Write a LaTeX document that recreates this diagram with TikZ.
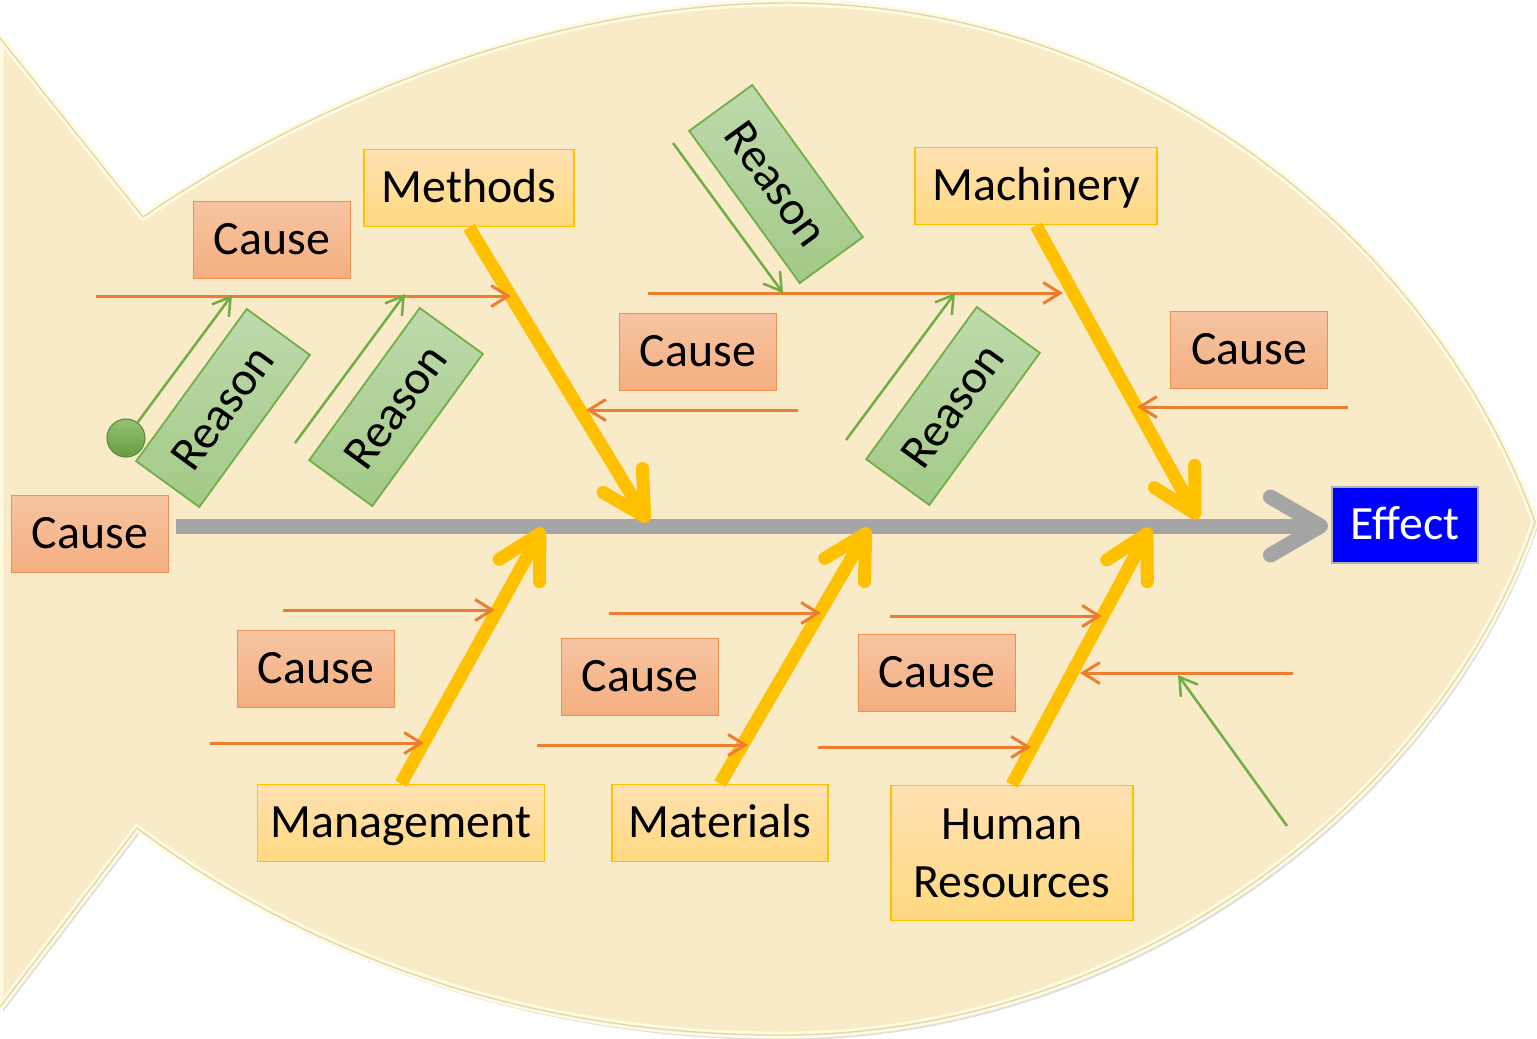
\documentclass[tikz,border=0pt]{standalone}
\usepackage{fontspec}
\setmainfont{Carlito}
\usepackage{xcolor}
\usepackage{tikz}
\usetikzlibrary{arrows.meta,shadows}
\definecolor{fishfill}{HTML}{FAEBC8}
\definecolor{fishedge}{HTML}{E3D6AE}
\definecolor{fishglow}{HTML}{FFFBE0}
\definecolor{spinegray}{HTML}{A5A5A5}
\definecolor{boneyellow}{HTML}{FFC000}
\definecolor{causeline}{HTML}{ED7D31}
\definecolor{reasonline}{HTML}{70AD47}
\definecolor{effectblue}{HTML}{0000FF}
\newcommand{\boxfont}{\fontsize{13.6}{16.5}\selectfont}
\tikzset{
  one line/.style = {text height=1.05em, text depth=0.2em},
  cat box/.style = {draw=boneyellow, line width=0.5pt, top color=yellow!22!orange!30!white,
    bottom color=yellow!40!orange!50!white, inner sep=0pt, minimum height=0.77cm, font=\boxfont, one line},
  cause box/.style = {draw=causeline!85, line width=0.5pt, top color=causeline!45!white,
    bottom color=causeline!62!white, inner sep=0pt, minimum width=1.57cm, minimum height=0.77cm, font=\boxfont, one line},
  reason box/.style = {draw=reasonline, line width=0.5pt, top color=reasonline!45!white,
    bottom color=reasonline!65!white, inner sep=0pt, minimum width=1.88cm, minimum height=0.78cm, font=\boxfont, one line},
  spine/.style = {spinegray, line width=0.15cm, -{Straight Barb[length=0.5cm,width=0.58cm,round]}},
  bone/.style = {boneyellow, line width=0.13cm, -{Straight Barb[length=0.42cm,width=0.46cm,round]}},
  cause arrow/.style = {causeline, line width=0.03cm, -{Straight Barb[length=0.17cm,width=0.21cm]}},
  reason arrow/.style = {reasonline, line width=0.025cm, -{Straight Barb[length=0.17cm,width=0.21cm]}}
}

\begin{document}
\begin{tikzpicture}[x=0.01cm,y=-0.01cm]
  \useasboundingbox (0,0) rectangle (1537,1038);

  % fish body with tail
  \path[fill=fishfill, draw=fishglow, line width=0.07cm,
        drop shadow={opacity=0.25,shadow xshift=0.03cm,shadow yshift=-0.05cm}]
    (0,38) -- (143,217) .. controls (330,90) and (560,5) .. (780,3)
    .. controls (1130,0) and (1430,230) .. (1535,522)
    .. controls (1440,800) and (1130,1036) .. (780,1035)
    .. controls (520,1035) and (300,950) .. (137,828) -- (0,1007) -- cycle;
  \draw[fishedge, line width=0.4pt]
    (0,38) -- (143,217) .. controls (330,90) and (560,5) .. (780,3)
    .. controls (1130,0) and (1430,230) .. (1535,522)
    .. controls (1440,800) and (1130,1036) .. (780,1035)
    .. controls (520,1035) and (300,950) .. (137,828) -- (0,1007);

  \node[cat box, minimum width=2.10cm] (M) at (469,188) {Methods};
  \node[cat box, minimum width=2.42cm] (Mc) at (1036,186) {Machinery};
  \node[cat box, minimum width=2.87cm] (Mg) at (401,823) {Management};
  \node[cat box, minimum width=2.16cm] (Mt) at (720,823) {Materials};
  \node[cat box, text height=, text depth=, minimum width=2.42cm, minimum height=1.35cm, align=center] (H) at (1012,853) {Human\\Resources};

  \node[cause box] (C1) at (272,240) {Cause};
  \node[cause box] (C2) at (698,352) {Cause};
  \node[cause box] (C3) at (1249,350) {Cause};
  \node[cause box] (C4) at (90,534) {Cause};
  \node[cause box] (C5) at (316,669) {Cause};
  \node[cause box] (C6) at (640,677) {Cause};
  \node[cause box] (C7) at (937,673) {Cause};

  \node[reason box, rotate=54] (R1) at (223,408) {Reason};
  \node[reason box, rotate=54] (R2) at (396,407) {Reason};
  \node[reason box, rotate=-54] (R3) at (776,184) {Reason};
  \node[reason box, rotate=54] (R4) at (953,406) {Reason};

  \node[fill=effectblue, draw=gray!60, line width=0.5pt, text=white, inner sep=0pt,
        minimum width=1.46cm, minimum height=0.76cm, font=\boxfont, one line] (E) at (1405,525) {Effect};

  \node[circle, inner sep=0pt, minimum size=0.38cm, draw=reasonline!80!black, line width=0.3pt,
        top color=reasonline!75!white, bottom color=reasonline!90!black] (dot) at (126,438) {};

  % spine and bones
  \coordinate (s0) at (176,526);
  \coordinate (s1) at (1328,526);
  \coordinate (tM) at (648,522);
  \coordinate (tMc) at (1198,519);
  \coordinate (tMg) at (543,528);
  \coordinate (tMt) at (869,528);
  \coordinate (tH) at (1150,528);

  \draw[spine] (s0) -- (s1);
  \draw[bone] (M.south) -- (tM);
  \draw[bone] (Mc.south) -- (tMc);
  \draw[bone] (Mg.north) -- (tMg);
  \draw[bone] (Mt.north) -- (tMt);
  \draw[bone] (H.north) -- (tH);

  % cause lines
  \coordinate (a1) at (96,296);   \coordinate (b1) at (511,296);
  \coordinate (a2) at (798,410);  \coordinate (b2) at (586,410);
  \coordinate (a3) at (648,293);  \coordinate (b3) at (1063,293);
  \coordinate (a4) at (1348,407); \coordinate (b4) at (1137,407);
  \coordinate (a5) at (283,610);  \coordinate (b5) at (495,610);
  \coordinate (a6) at (210,743);  \coordinate (b6) at (424,743);
  \coordinate (a7) at (609,613);  \coordinate (b7) at (821,613);
  \coordinate (a8) at (537,745);  \coordinate (b8) at (748,745);
  \coordinate (a9) at (890,616);  \coordinate (b9) at (1102,616);
  \coordinate (a10) at (818,747); \coordinate (b10) at (1031,747);
  \coordinate (a11) at (1293,673); \coordinate (b11) at (1080,673);

  \foreach \i in {1,...,11}
    \draw[cause arrow] (a\i) -- (b\i);

  % reason lines
  \coordinate (g1) at (232,295);
  \coordinate (f2) at (295,443);  \coordinate (g2) at (405,294);
  \coordinate (f3) at (673,143);  \coordinate (g3) at (783,293);
  \coordinate (f4) at (846,440);  \coordinate (g4) at (955,293);
  \coordinate (f5) at (1287,826); \coordinate (g5) at (1178,675);

  \draw[reason arrow] (dot) -- (g1);
  \foreach \i in {2,...,5}
    \draw[reason arrow] (f\i) -- (g\i);

\end{tikzpicture}
\end{document}
